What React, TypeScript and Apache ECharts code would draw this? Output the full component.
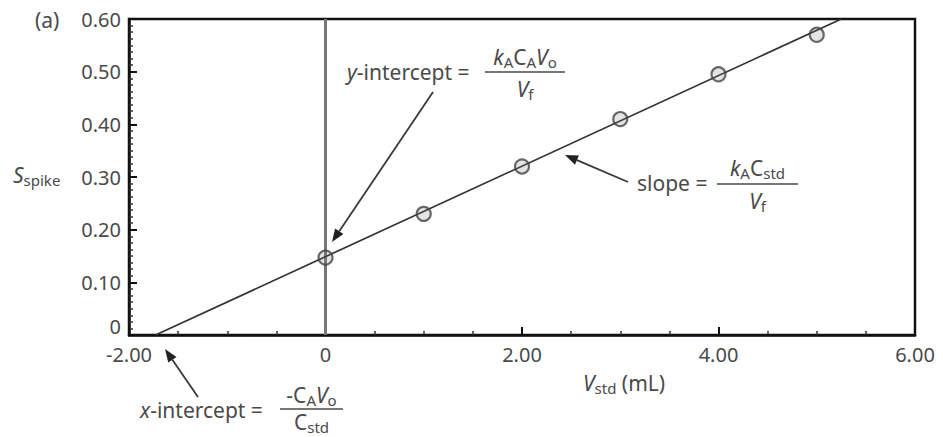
import React, { useEffect, useRef } from "react";
import * as echarts from "echarts";

// ---- data ----
const vStd = [0, 1, 2, 3, 4, 5];
const sSpike = [0.147, 0.23, 0.32, 0.41, 0.495, 0.57];
const fitLine = [
  [-1.73, 0],
  [5.25, 0.6],
];
const zeroLine = [
  [0, 0],
  [0, 0.6],
];
const xTicks = { min: -2, max: 6, interval: 2 };
const yTicks = { min: 0, max: 0.6, interval: 0.1 };

const FONT = '"Noto Sans", sans-serif';
const TXT = "#4a4a4a";

const rich: any = {
  n: { fontFamily: FONT, fontSize: 21, color: TXT, lineHeight: 22, verticalAlign: "middle" },
  i: { fontFamily: FONT, fontSize: 21, color: TXT, lineHeight: 22, fontStyle: "italic", verticalAlign: "middle" },
  s: { fontFamily: FONT, fontSize: 15, color: TXT, lineHeight: 12, padding: [10, 0, 0, 0], verticalAlign: "middle" },
};

function txt(x: number, y: number, text: string, align = "left") {
  return {
    type: "text",
    x,
    y,
    z: 100,
    style: { text, rich, align, verticalAlign: "middle", fill: TXT },
  };
}

function fraction(x1: number, x2: number, barY: number, num: string, numY: number, den: string, denY: number) {
  const cx = (x1 + x2) / 2;
  return [
    txt(cx, numY, num, "center"),
    {
      type: "line",
      z: 100,
      shape: { x1, y1: barY, x2, y2: barY },
      style: { stroke: TXT, lineWidth: 1.6 },
    },
    txt(cx, denY, den, "center"),
  ];
}

function arrow(tail: number[], tip: number[]) {
  const dx = tip[0] - tail[0];
  const dy = tip[1] - tail[1];
  const len = Math.sqrt(dx * dx + dy * dy);
  const ux = dx / len;
  const uy = dy / len;
  const hl = 13;
  const hw = 5;
  const bx = tip[0] - ux * hl;
  const by = tip[1] - uy * hl;
  return [
    {
      type: "line",
      z: 100,
      shape: { x1: tail[0], y1: tail[1], x2: bx, y2: by },
      style: { stroke: "#3a3a3a", lineWidth: 1.8 },
    },
    {
      type: "polygon",
      z: 100,
      shape: {
        points: [
          [tip[0], tip[1]],
          [bx - uy * hw, by + ux * hw],
          [bx + uy * hw, by - ux * hw],
        ],
      },
      style: { fill: "#222" },
    },
  ];
}

const fmtX = (v: number) => (v === 0 ? "0" : v.toFixed(2));
const fmtY = (v: number) => (v === 0 ? "{z|0}" : v.toFixed(2));

export default function App() {
  const ref = useRef<HTMLDivElement>(null);
  useEffect(() => {
    if (!ref.current) return;
    const chart = echarts.init(ref.current, undefined, { renderer: "svg" });
    const axisCommon = {
      type: "value",
      axisLine: { show: true, onZero: false, lineStyle: { color: "#111", width: 2.5 } },
      axisTick: { show: true, inside: true, length: 8, lineStyle: { color: "#111", width: 2 } },
      splitLine: { show: false },
    };
    const labelStyle = { fontFamily: FONT, fontSize: 20, color: TXT, lineHeight: 18 };
    chart.setOption({
      animation: false,
      backgroundColor: "#fff",
      grid: {
        left: 129,
        right: 28,
        top: 19,
        bottom: 102,
        show: true,
        borderColor: "#111",
        borderWidth: 2.5,
      },
      xAxis: {
        ...axisCommon,
        min: xTicks.min,
        max: xTicks.max,
        interval: xTicks.interval,
        axisLabel: { ...labelStyle, formatter: fmtX, margin: 10 },
        minorTick: { show: true, splitNumber: 4, length: 4, lineStyle: { color: "#333", width: 1.5 } },
      },
      yAxis: {
        ...axisCommon,
        min: yTicks.min,
        max: yTicks.max,
        interval: yTicks.interval,
        axisLabel: {
          ...labelStyle,
          formatter: fmtY,
          margin: 8,
          rich: { z: { ...labelStyle, padding: [0, 0, 18, 0] } },
        },
        minorTick: { show: true, splitNumber: 8, length: 4, lineStyle: { color: "#333", width: 1.5 } },
      },
      series: [
        {
          type: "line",
          data: zeroLine,
          symbol: "none",
          lineStyle: { color: "#777", width: 3 },
          z: 2,
        },
        {
          type: "line",
          data: fitLine,
          symbol: "none",
          lineStyle: { color: "#333", width: 1.7 },
          z: 3,
        },
        {
          type: "scatter",
          data: vStd.map((x, i) => [x, sSpike[i]]),
          symbol: "circle",
          symbolSize: 14,
          itemStyle: { color: "rgba(120,120,120,0.25)", borderColor: "#444", borderWidth: 2.2 },
          z: 4,
        },
      ],
    });

    const graphic: any[] = [
      txt(35, 20, "{n|(a)}"),
      txt(13, 175, "{i|S}{s|spike}"),
      txt(583, 383, "{i|V}{s|std}{n| (mL)}"),
      txt(347, 72, "{i|y}{n|-intercept =}"),
      ...fraction(485, 565, 72, "{i|k}{s|A}{n|C}{s|A}{i|V}{s|o}", 57, "{i|V}{s|f}", 89),
      txt(637, 183, "{n|slope =}"),
      ...fraction(717, 798, 184, "{i|k}{s|A}{n|C}{s|std}", 168, "{i|V}{s|f}", 201),
      txt(140, 410, "{i|x}{n|-intercept =}"),
      ...fraction(280, 343, 409, "{n|-C}{s|A}{i|V}{s|o}", 395, "{n|C}{s|std}", 422),
      ...arrow([433, 92], [332, 242]),
      ...arrow([628, 182], [565, 155]),
      ...arrow([198, 397], [165, 349]),
    ];
    chart.setOption({ graphic });
    return () => chart.dispose();
  }, []);
  return (
    <div
      ref={ref}
      style={{ position: "fixed", left: 0, top: 0, width: 943, height: 437, background: "#fff" }}
    />
  );
}
